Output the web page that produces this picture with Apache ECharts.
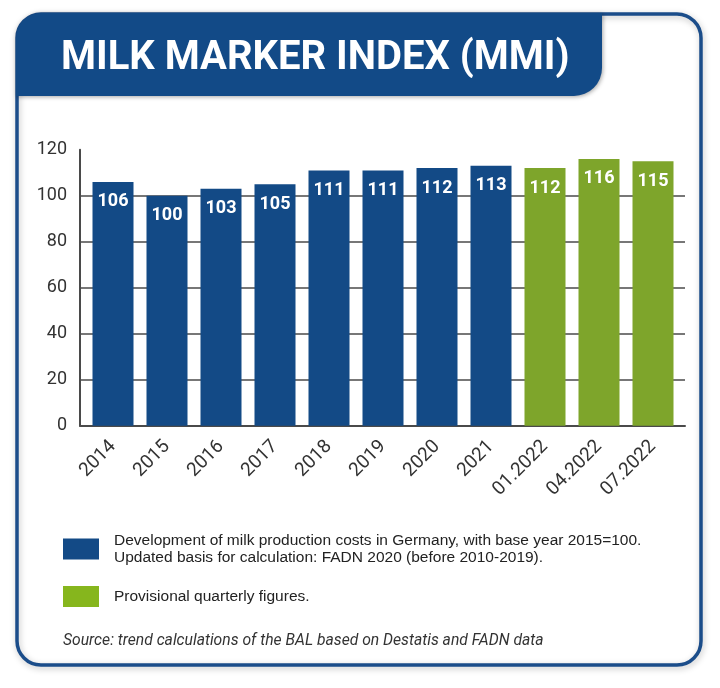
<!DOCTYPE html>
<html>
<head>
<meta charset="utf-8">
<script src="https://cdn.jsdelivr.net/npm/echarts@6/dist/echarts.min.js"></script>
<style>
html,body{margin:0;padding:0;background:#ffffff;}
#chart{width:720px;height:688px;}
</style>
</head>
<body>
<div id="chart"></div>
<script>
const titleText = 'MILK MARKER INDEX (MMI)';
const categories = ['2014','2015','2016','2017','2018','2019','2020','2021','01.2022','04.2022','07.2022'];
const annualValues = [106,100,103,105,111,111,112,113,'-','-','-'];
const provisionalValues = ['-','-','-','-','-','-','-','-',112,116,115];
const annualName = 'Annual';
const provisionalName = 'Provisional';
const annualLegendText = 'Development of milk production costs in Germany, with base year 2015=100.\nUpdated basis for calculation: FADN 2020 (before 2010-2019).';
const provisionalLegendText = 'Provisional quarterly figures.';
const sourceText = 'Source: trend calculations of the BAL based on Destatis and FADN data';
const yMin = 0, yMax = 120, yInterval = 20;

const BLUE = '#134a86';
const GREEN = '#7ea52b';
const GREEN_LEGEND = '#86b61d';
const FRAME = '#1b4d8a';
const AXIS = '#4a4a4a';

const chart = echarts.init(document.getElementById('chart'), null, {renderer:'canvas'});
const legendMap = {};
legendMap[annualName] = annualLegendText;
legendMap[provisionalName] = provisionalLegendText;

chart.setOption({
  backgroundColor: '#ffffff',
  animation: false,
  title: {
    text: titleText,
    left: 56, top: 34,
    textStyle: {color:'#ffffff', fontFamily:'Roboto', fontWeight:'bold', fontSize:40}
  },
  graphic: [
    {type:'rect', z:-1, shape:{x:17, y:14, width:684, height:651, r:24},
     style:{fill:'none', stroke:FRAME, lineWidth:3.5, shadowBlur:6, shadowColor:'rgba(0,0,0,0.25)', shadowOffsetX:1, shadowOffsetY:2}},
    {type:'rect', z:-1, shape:{x:16, y:13, width:586, height:83, r:[25,0,28,0]},
     style:{fill:'#124a87', shadowBlur:4, shadowColor:'rgba(0,0,0,0.35)', shadowOffsetX:1, shadowOffsetY:1}},
    {type:'text', x:63, y:641, style:{text:sourceText, fill:'#333333', font:'italic 15.7px Roboto', textVerticalAlign:'middle'}}
  ],
  legend: {
    orient:'vertical', left:63, top:532, padding:0, itemWidth:36, itemHeight:21, itemGap:20,
    icon:'rect',
    data:[
      {name:annualName, itemStyle:{color:BLUE}},
      {name:provisionalName, itemStyle:{color:GREEN_LEGEND}}
    ],
    formatter: function(n){ return legendMap[n]; },
    textStyle:{fontFamily:'Liberation Sans', fontSize:15.5, color:'#222222', lineHeight:17, padding:[0,0,0,10]},
    selectedMode:false
  },
  grid: [
    {left:80, right:35, top:149.7, bottom:262.3},
    {left:86, right:40, top:149.7, bottom:262.3}
  ],
  xAxis: [
    {type:'category', gridIndex:0, data:[''], axisLine:{show:true, lineStyle:{color:AXIS, width:2}},
     axisTick:{show:false}, axisLabel:{show:false}, splitLine:{show:false}},
    {type:'category', gridIndex:1, data:categories, axisLine:{show:false}, axisTick:{show:false},
     axisLabel:{rotate:45, margin:18, color:'#333333', fontFamily:'Roboto', fontSize:19, interval:0}}
  ],
  yAxis: [
    {type:'value', gridIndex:0, min:yMin, max:yMax, interval:yInterval,
     axisLine:{show:true, lineStyle:{color:AXIS, width:2}}, axisTick:{show:false},
     axisLabel:{margin:13, color:'#333333', fontFamily:'Roboto', fontSize:18},
     splitLine:{show:true, lineStyle:{color:[AXIS,AXIS,AXIS,AXIS,AXIS,AXIS,'rgba(0,0,0,0)'], width:1.5}}},
    {type:'value', gridIndex:1, min:yMin, max:yMax, interval:yInterval, show:false}
  ],
  series: [
    {name:annualName, type:'bar', xAxisIndex:1, yAxisIndex:1, data:annualValues, barWidth:41, barGap:'-100%',
     itemStyle:{color:BLUE},
     label:{show:true, position:'insideTop', distance:11, color:'#ffffff', fontFamily:'Roboto', fontWeight:'bold', fontSize:18}},
    {name:provisionalName, type:'bar', xAxisIndex:1, yAxisIndex:1, data:provisionalValues, barWidth:41, barGap:'-100%',
     itemStyle:{color:GREEN},
     label:{show:true, position:'insideTop', distance:11, color:'#ffffff', fontFamily:'Roboto', fontWeight:'bold', fontSize:18}}
  ]
});
</script>
</body>
</html>
